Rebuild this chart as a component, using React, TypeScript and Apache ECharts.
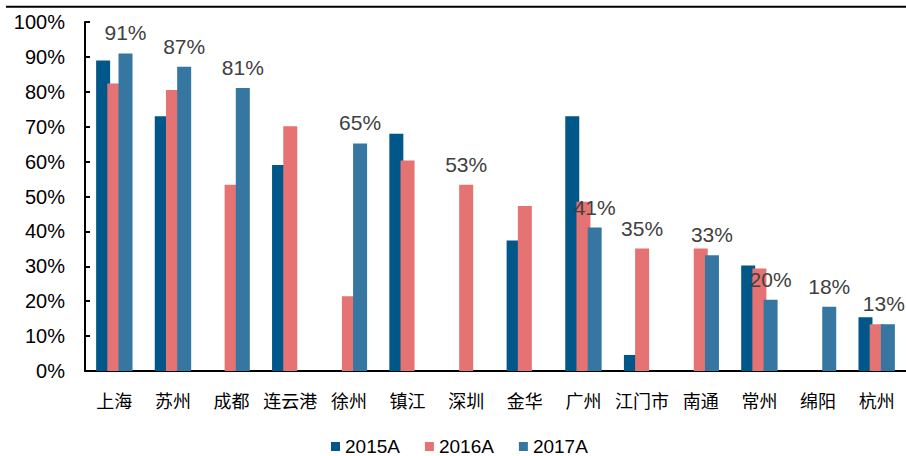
import React, { useEffect, useRef } from "react";
import * as echarts from "echarts";

const categories = ["上海", "苏州", "成都", "连云港", "徐州", "镇江", "深圳", "金华", "广州", "江门市", "南通", "常州", "绵阳", "杭州"];
const s2015 = [89, 73, null, 59, null, 68, null, 37.4, 73, 4.6, null, 30.2, null, 15.4];
const s2016 = [82.4, 80.5, 53.4, 70.1, 21.4, 60.3, 53.4, 47.3, 48.5, 35.1, 35.1, 29.4, null, 13.4];
const s2017 = [91, 87.2, 81.1, null, 65.2, null, null, null, 41.1, null, 33.2, 20.4, 18.4, 13.4];
const labeled2016 = ["深圳", "江门市"];
const seriesNames = ["2015A", "2016A", "2017A"];
const yTicks = { min: 0, max: 100, interval: 10 };

const COLORS = ["#02578A", "#E57373", "#3577A0"];
const FONT = 'Arial, "Liberation Sans", "Noto Sans CJK SC", sans-serif';

export default function App() {
  const ref = useRef<HTMLDivElement>(null);
  useEffect(() => {
    if (!ref.current) return;
    const chart = echarts.init(ref.current, null, { renderer: "svg" });
    const labelStyle = {
      show: true,
      position: "top",
      distance: 10,
      color: "#404040",
      fontSize: 21,
      fontFamily: FONT,
      formatter: (p: any) => `${Math.round(p.value)}%`,
    };
    const data2016 = s2016.map((v, i) =>
      labeled2016.includes(categories[i]) && v != null
        ? { value: v, label: labelStyle }
        : v
    );
    const lastIdx = categories.length - 1;
    const data2017 = s2017.map((v, i) =>
      i === lastIdx && v != null ? { value: v, label: { ...labelStyle, offset: [-4, 0] } } : v
    );
    chart.setOption({
      animation: false,
      textStyle: { fontFamily: FONT },
      grid: { left: 85, right: -6, top: 22, bottom: 85, containLabel: false },
      legend: {
        data: seriesNames,
        left: 326,
        top: 432,
        icon: "rect",
        itemWidth: 9,
        itemHeight: 9,
        itemGap: 25,
        textStyle: { fontSize: 19, color: "#000", fontFamily: FONT },
      },
      graphic: [
        {
          type: "line",
          shape: { x1: 6, y1: 6.7, x2: 906, y2: 6.7 },
          style: { stroke: "#000", lineWidth: 2 },
        },
      ],
      xAxis: {
        type: "category",
        data: categories,
        axisLine: { lineStyle: { color: "#000", width: 2 } },
        axisTick: { inside: true, length: 6, lineStyle: { color: "#000", width: 2 } },
        axisLabel: { color: "#000", fontSize: 18, margin: 22, fontFamily: FONT, interval: 0 },
      },
      yAxis: {
        type: "value",
        min: yTicks.min,
        max: yTicks.max,
        interval: yTicks.interval,
        axisLine: { show: true, lineStyle: { color: "#000", width: 2 } },
        axisTick: { show: true, inside: true, length: 5, lineStyle: { color: "#000", width: 2 } },
        splitLine: { show: false },
        axisLabel: { color: "#000", fontSize: 20, margin: 20, fontFamily: FONT, formatter: "{value}%" },
      },
      series: [
        {
          name: seriesNames[0],
          type: "bar",
          data: s2015,
          barWidth: 14,
          barGap: "-20%",
          itemStyle: { color: COLORS[0] },
        },
        {
          name: seriesNames[1],
          type: "bar",
          data: data2016,
          barWidth: 14,
          barGap: "-20%",
          itemStyle: { color: COLORS[1] },
        },
        {
          name: seriesNames[2],
          type: "bar",
          data: data2017,
          barWidth: 14,
          barGap: "-20%",
          itemStyle: { color: COLORS[2] },
          label: labelStyle,
        },
      ],
    });
    return () => chart.dispose();
  }, []);
  return (
    <div
      ref={ref}
      style={{ position: "fixed", left: 0, top: 0, width: 906, height: 456, background: "#fff" }}
    />
  );
}
